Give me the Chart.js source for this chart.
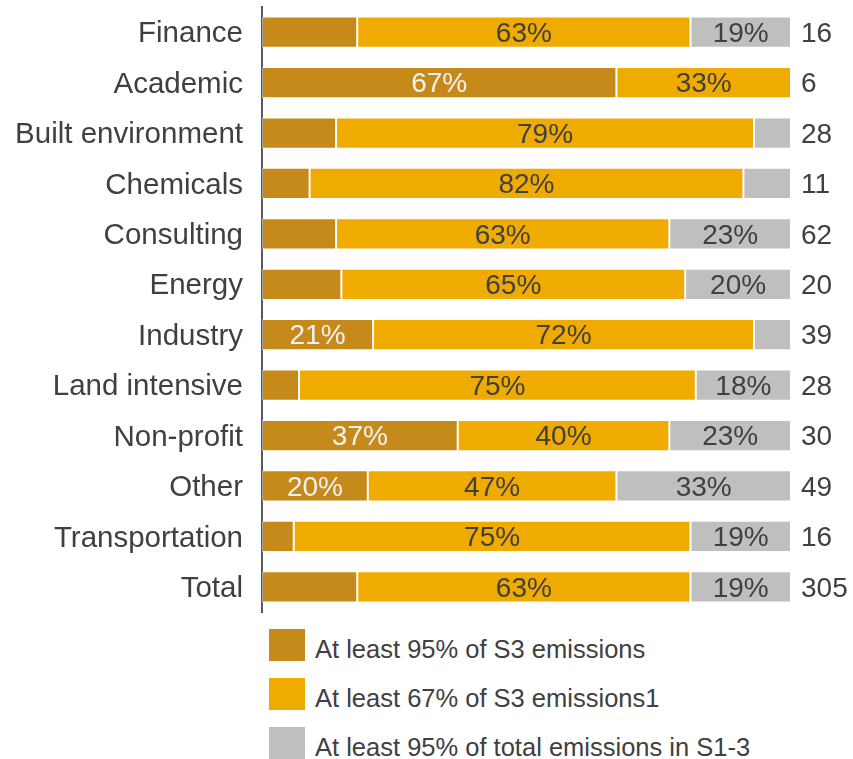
<!DOCTYPE html>
<html>
<head>
<meta charset="utf-8">
<script src="https://cdn.jsdelivr.net/npm/chart.js@4.4.0/dist/chart.umd.min.js"></script>
<style>
  html, body { margin: 0; padding: 0; background: #fff; }
  body { width: 853px; height: 759px; overflow: hidden; font-family: "Liberation Sans", Arial, sans-serif; }
  #wrap { position: relative; width: 853px; height: 620px; }
  #legend { margin: 9px 0 0 269px; }
  .item { display: flex; align-items: center; height: 49px; color: #404040; font-size: 25.5px; }
  .item .box { width: 36px; height: 32px; margin-right: 10px; margin-top: -17px; }
  .item span { margin-top: -8px; }
</style>
</head>
<body>
<div id="wrap"><canvas id="scopeChart"></canvas></div>
<div id="legend"></div>
<script>
// categories and values (share of companies, %)
const categories = ["Finance", "Academic", "Built environment", "Chemicals", "Consulting", "Energy",
  "Industry", "Land intensive", "Non-profit", "Other", "Transportation", "Total"];
const s3At95 = [18, 67, 14, 9, 14, 15, 21, 7, 37, 20, 6, 18];
const s3At67 = [63, 33, 79, 82, 63, 65, 72, 75, 40, 47, 75, 63];
const totalAt95 = [19, 0, 7, 9, 23, 20, 7, 18, 23, 33, 19, 19];
const counts = [16, 6, 28, 11, 62, 20, 39, 28, 30, 49, 16, 305];
const seriesNames = ["At least 95% of S3 emissions", "At least 67% of S3 emissions1", "At least 95% of total emissions in S1-3"];
const seriesColors = ["#C68A1B", "#F0AB00", "#BFBFBF"];
const labelColors = ["#F2F2F2", "#404040", "#404040"];
const minLabel = [20, 18, 18];

const FONT = "'Liberation Sans', Arial, sans-serif";

// percent labels inside the segments + counts at the right
const barLabels = {
  id: "barLabels",
  afterDatasetsDraw(chart) {
    const ctx = chart.ctx;
    ctx.save();
    ctx.font = "28px " + FONT;
    ctx.textBaseline = "middle";
    chart.data.datasets.forEach((ds, di) => {
      chart.getDatasetMeta(di).data.forEach((bar, i) => {
        const v = ds.data[i];
        if (v < minLabel[di]) return;
        ctx.fillStyle = labelColors[di];
        ctx.textAlign = "center";
        ctx.fillText(v + "%", (bar.x + bar.base) / 2, bar.y + 2);
      });
    });
    const meta = chart.getDatasetMeta(0);
    ctx.fillStyle = "#404040";
    ctx.textAlign = "left";
    counts.forEach((c, i) => {
      ctx.fillText(String(c), chart.chartArea.right + 10, meta.data[i].y + 2);
    });
    ctx.restore();
  }
};

const scopeCtx = document.getElementById("scopeChart").getContext("2d");
const chart = new Chart(scopeCtx, {
  type: "bar",
  data: {
    labels: categories,
    datasets: [s3At95, s3At67, totalAt95].map((d, i) => ({
      label: seriesNames[i],
      data: d,
      backgroundColor: seriesColors[i],
      borderColor: "rgba(255,255,255,0.45)",
      borderWidth: 1,
      borderSkipped: false,
      categoryPercentage: 1,
      barPercentage: 0.62
    }))
  },
  options: {
    indexAxis: "y",
    responsive: true,
    maintainAspectRatio: false,
    animation: false,
    layout: { padding: { top: 7, bottom: 8, right: 62, left: 0 } },
    plugins: { legend: { display: false }, tooltip: { enabled: false } },
    scales: {
      x: { stacked: true, min: 0, max: 100, display: false },
      y: {
        stacked: true,
        grid: { display: false, drawTicks: false },
        border: { display: true, color: "#595959", width: 2 },
        ticks: { color: "#404040", padding: 19, labelOffset: 2, font: { family: FONT, size: 29.5 } },
        afterFit(scale) {
          scale.width = 262;
          scale.paddingTop = 0;
          scale.paddingBottom = 0;
        }
      }
    }
  },
  plugins: [barLabels]
});

// legend
const legendEl = document.getElementById("legend");
seriesNames.forEach((name, i) => {
  const row = document.createElement("div");
  row.className = "item";
  row.innerHTML = '<div class="box" style="background:' + seriesColors[i] + '"></div><span>' + name + '</span>';
  legendEl.appendChild(row);
});
</script>
</body>
</html>
